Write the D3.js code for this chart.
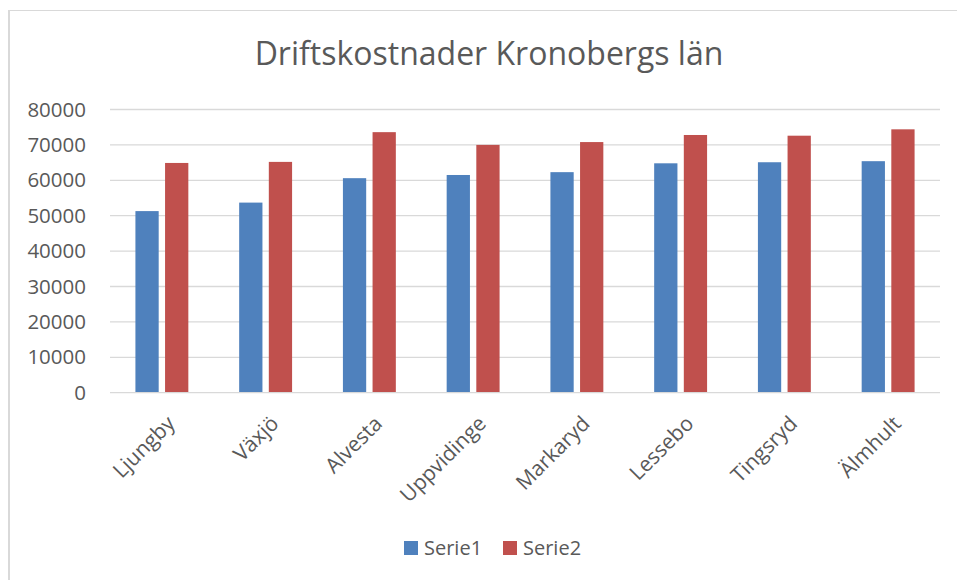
<!DOCTYPE html>
<html>
<head>
<meta charset="utf-8">
<script src="https://cdn.jsdelivr.net/npm/d3@7"></script>
<style>
    body { margin: 0; background: #fff; }
    svg { display: block; font-family: "Open Sans", sans-serif; }
</style>
</head>
<body>
<svg id="svg" width="957" height="580"></svg>
<script>
    const title = 'Driftskostnader Kronobergs län'
    const categories = ['Ljungby', 'Växjö', 'Alvesta', 'Uppvidinge', 'Markaryd', 'Lessebo', 'Tingsryd', 'Älmhult']
    const seriesNames = ['Serie1', 'Serie2']
    const serie1 = [51300, 53700, 60600, 61500, 62300, 64800, 65100, 65400]
    const serie2 = [64900, 65200, 73600, 70000, 70800, 72800, 72600, 74400]
    const yTicks = [0, 10000, 20000, 30000, 40000, 50000, 60000, 70000, 80000]
    const colors = ['#4f81bd', '#c0504d']

    const textColor = '#595959'
    const gridColor = '#d9d9d9'
    const margin = { top: 109.5, right: 17, bottom: 187.3, left: 110 }
    const width = 957
    const height = 580
    const svg = d3.select('#svg')

    // chart area border (only left and top visible in the crop)
    svg.append('line').attr('x1', 9).attr('x2', 9).attr('y1', 10).attr('y2', height)
        .attr('stroke', gridColor).attr('stroke-width', 2)
    svg.append('line').attr('x1', 8).attr('x2', width).attr('y1', 10.5).attr('y2', 10.5)
        .attr('stroke', gridColor).attr('stroke-width', 1)

    // Title
    svg.append('text')
        .attr('x', 489)
        .attr('y', 65)
        .attr('text-anchor', 'middle')
        .attr('fill', textColor)
        .style('font-size', '32px')
        .text(title)

    // Scales
    const xScale = d3.scaleBand()
        .domain(categories)
        .range([margin.left, width - margin.right])
        .padding(0)

    const yScale = d3.scaleLinear()
        .domain([0, 80000])
        .range([height - margin.bottom, margin.top])

    const groupWidth = xScale.bandwidth() * 0.51
    const xInner = d3.scaleBand()
        .domain(seriesNames)
        .range([-groupWidth / 2, groupWidth / 2])
        .paddingInner(0.215)
        .paddingOuter(0)

    // Gridlines
    svg.append('g')
        .selectAll('line')
        .data(yTicks.slice(1))
        .join('line')
        .attr('x1', margin.left)
        .attr('x2', width - margin.right)
        .attr('y1', (d) => yScale(d))
        .attr('y2', (d) => yScale(d))
        .attr('stroke', gridColor)
        .attr('stroke-width', 1.3)

    // Y axis
    const yAxis = svg.append('g')
        .attr('transform', `translate(86,0)`)
        .call(d3.axisLeft(yScale).tickValues(yTicks).tickSize(0).tickPadding(0).tickFormat(d3.format('d')))
    yAxis.select('.domain').remove()
    yAxis.selectAll('text')
        .attr('fill', textColor)
        .style('font-size', '20.5px')
        .style('font-family', '"Open Sans", sans-serif')

    // Bars
    const rows = categories.map((c, i) => ({ category: c, values: [serie1[i], serie2[i]] }))
    const groups = svg.append('g')
        .selectAll('g')
        .data(rows)
        .join('g')
        .attr('transform', (d) => `translate(${xScale(d.category) + xScale.bandwidth() / 2},0)`)

    groups.selectAll('rect')
        .data((d) => d.values.map((v, j) => ({ name: seriesNames[j], value: v, color: colors[j] })))
        .join('rect')
        .attr('x', (d) => xInner(d.name))
        .attr('width', xInner.bandwidth())
        .attr('y', (d) => yScale(d.value))
        .attr('height', (d) => yScale(0) - yScale(d.value))
        .attr('fill', (d) => d.color)

    // X axis
    const xAxis = svg.append('g')
        .attr('transform', `translate(0,${yScale(0)})`)
        .call(d3.axisBottom(xScale).tickSize(0).tickPadding(0))
    xAxis.select('.domain').remove()
    xAxis.append('line')
        .attr('x1', margin.left)
        .attr('x2', width - margin.right)
        .attr('stroke', gridColor)
        .attr('stroke-width', 1.3)
    xAxis.selectAll('.tick text')
        .attr('fill', textColor)
        .style('font-size', '21px')
        .style('font-family', '"Open Sans", sans-serif')
        .attr('text-anchor', 'end')
        .attr('dy', '0.35em')
        .attr('y', 0)
        .attr('transform', 'translate(9,27) rotate(-45)')

    // Legend
    const legend = svg.append('g').attr('transform', 'translate(404,541)')
    const legendX = [0, 99]
    seriesNames.forEach((name, i) => {
        const item = legend.append('g').attr('transform', `translate(${legendX[i]},0)`)
        item.append('rect').attr('width', 14).attr('height', 14).attr('fill', colors[i])
        item.append('text')
            .attr('x', 20)
            .attr('y', 14)
            .attr('fill', textColor)
            .style('font-size', '20px')
            .text(name)
    })
</script>
</body>
</html>
